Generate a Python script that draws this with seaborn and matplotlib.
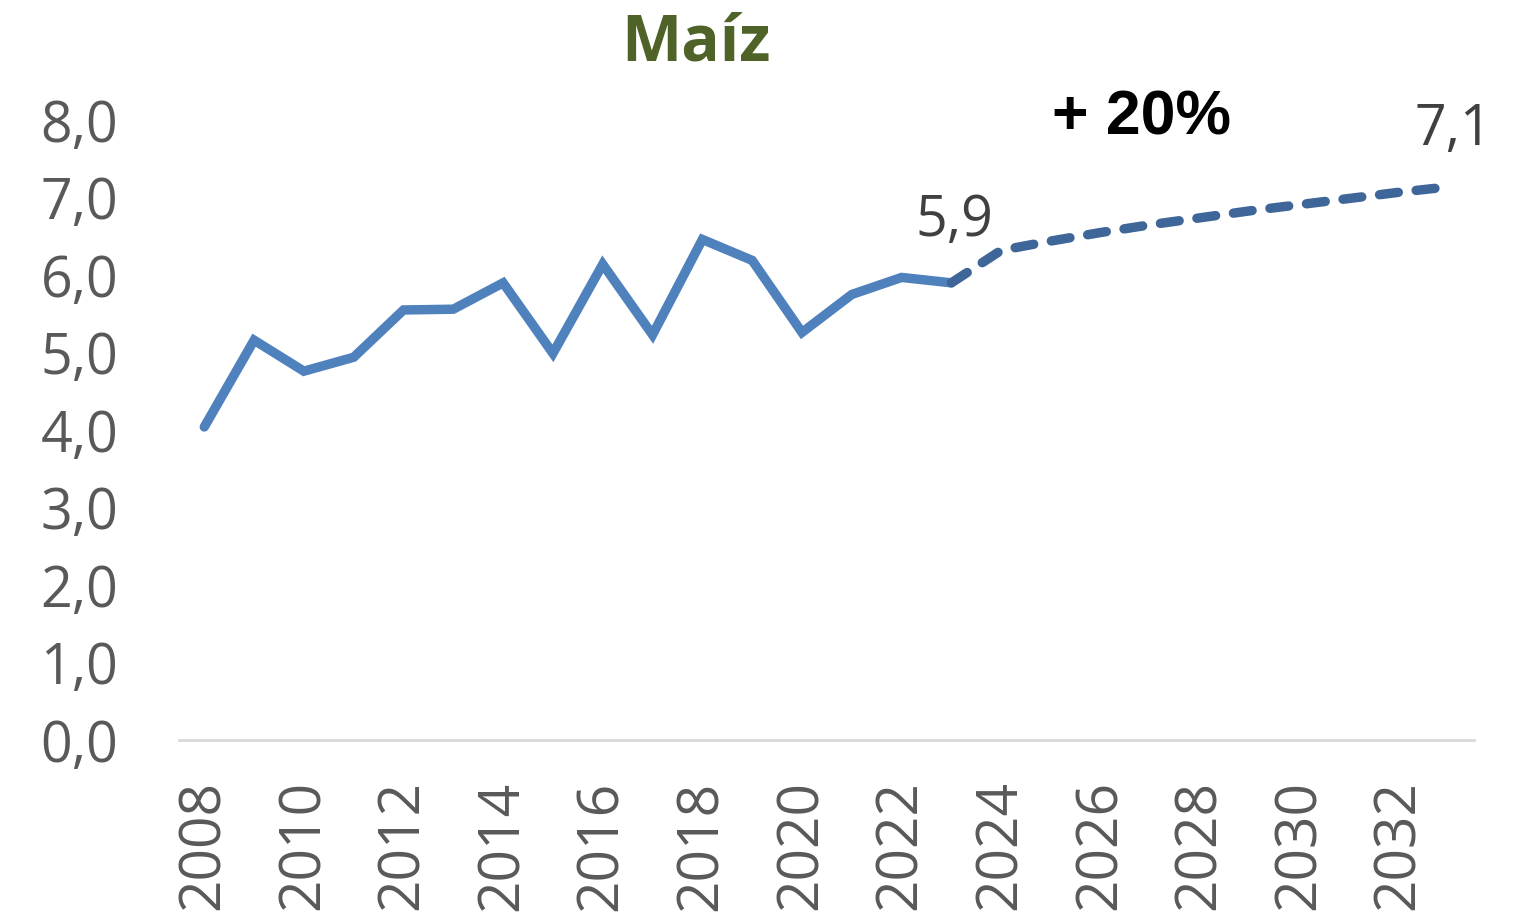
import pandas as pd
import matplotlib
matplotlib.use('Agg')
import matplotlib.pyplot as plt
import seaborn as sns

# historical yields (t/ha) and projection
hist_years = list(range(2008, 2024))
hist_values = [4.04, 5.16, 4.76, 4.94, 5.55, 5.56, 5.90, 4.99,
               6.14, 5.23, 6.46, 6.19, 5.26, 5.75, 5.97, 5.90]
proj_years = list(range(2023, 2034))
proj_values = [5.90, 6.32, 6.44, 6.55, 6.65, 6.74, 6.83, 6.91, 6.99, 7.07, 7.14]

title = "Maíz"
growth_label = "+ 20%"
start_label = "5,9"
end_label = "7,1"
y_ticks = [0, 1, 2, 3, 4, 5, 6, 7, 8]
x_ticks = list(range(2008, 2034, 2))

hist = pd.DataFrame({"year": hist_years, "value": hist_values})
proj = pd.DataFrame({"year": proj_years, "value": proj_values})

sns.set_style("white")
plt.rcParams['font.family'] = ['Open Sans', 'DejaVu Sans']

fig = plt.figure(figsize=(15.2, 9.17), dpi=100)
ax = fig.add_axes([0.118, 0.193, 0.852, 0.676])

sns.lineplot(data=hist, x="year", y="value", ax=ax, color="#4F81BD",
             linewidth=6.8, solid_capstyle="round", solid_joinstyle="miter")
sns.lineplot(data=proj, x="year", y="value", ax=ax, color="#3E6699",
             linewidth=6.8, linestyle=(0, (2.0, 1.9)), dash_capstyle="round")

ax.set_xlim(2007.5, 2033.5)
ax.set_ylim(0, 8)
ax.set_yticks(y_ticks)
ax.set_yticklabels([f"{v:.1f}".replace(".", ",") for v in y_ticks])
ax.set_xticks(x_ticks)
ax.set_xticklabels([str(y) for y in x_ticks], rotation=90)
ax.tick_params(axis="y", length=0, pad=44, labelsize=40, labelcolor="#595959")
ax.tick_params(axis="x", length=0, pad=29, labelsize=41, labelcolor="#595959")
ax.set_xlabel("")
ax.set_ylabel("")

for side in ["top", "right", "left"]:
    ax.spines[side].set_visible(False)
ax.spines["bottom"].set_color("#D9D9D9")
ax.spines["bottom"].set_linewidth(2)

# data labels
ax.annotate(start_label, (hist_years[-1], hist_values[-1]), xytext=(2, 24),
            textcoords="offset points", ha="center", va="bottom",
            fontsize=40, color="#404040")
ax.annotate(end_label, (proj_years[-1], proj_values[-1]), xytext=(3, 20),
            textcoords="offset points", ha="center", va="bottom",
            fontsize=40, color="#404040")

fig.text(0.751, 0.871, growth_label, ha="center", va="center", fontsize=45,
         fontweight="bold", color="black", family=["Liberation Sans", "DejaVu Sans"])
fig.text(0.458, 0.952, title, ha="center", va="center", fontsize=46,
         fontweight="bold", color="#4F6228")

fig.savefig("out.png", dpi=100)
